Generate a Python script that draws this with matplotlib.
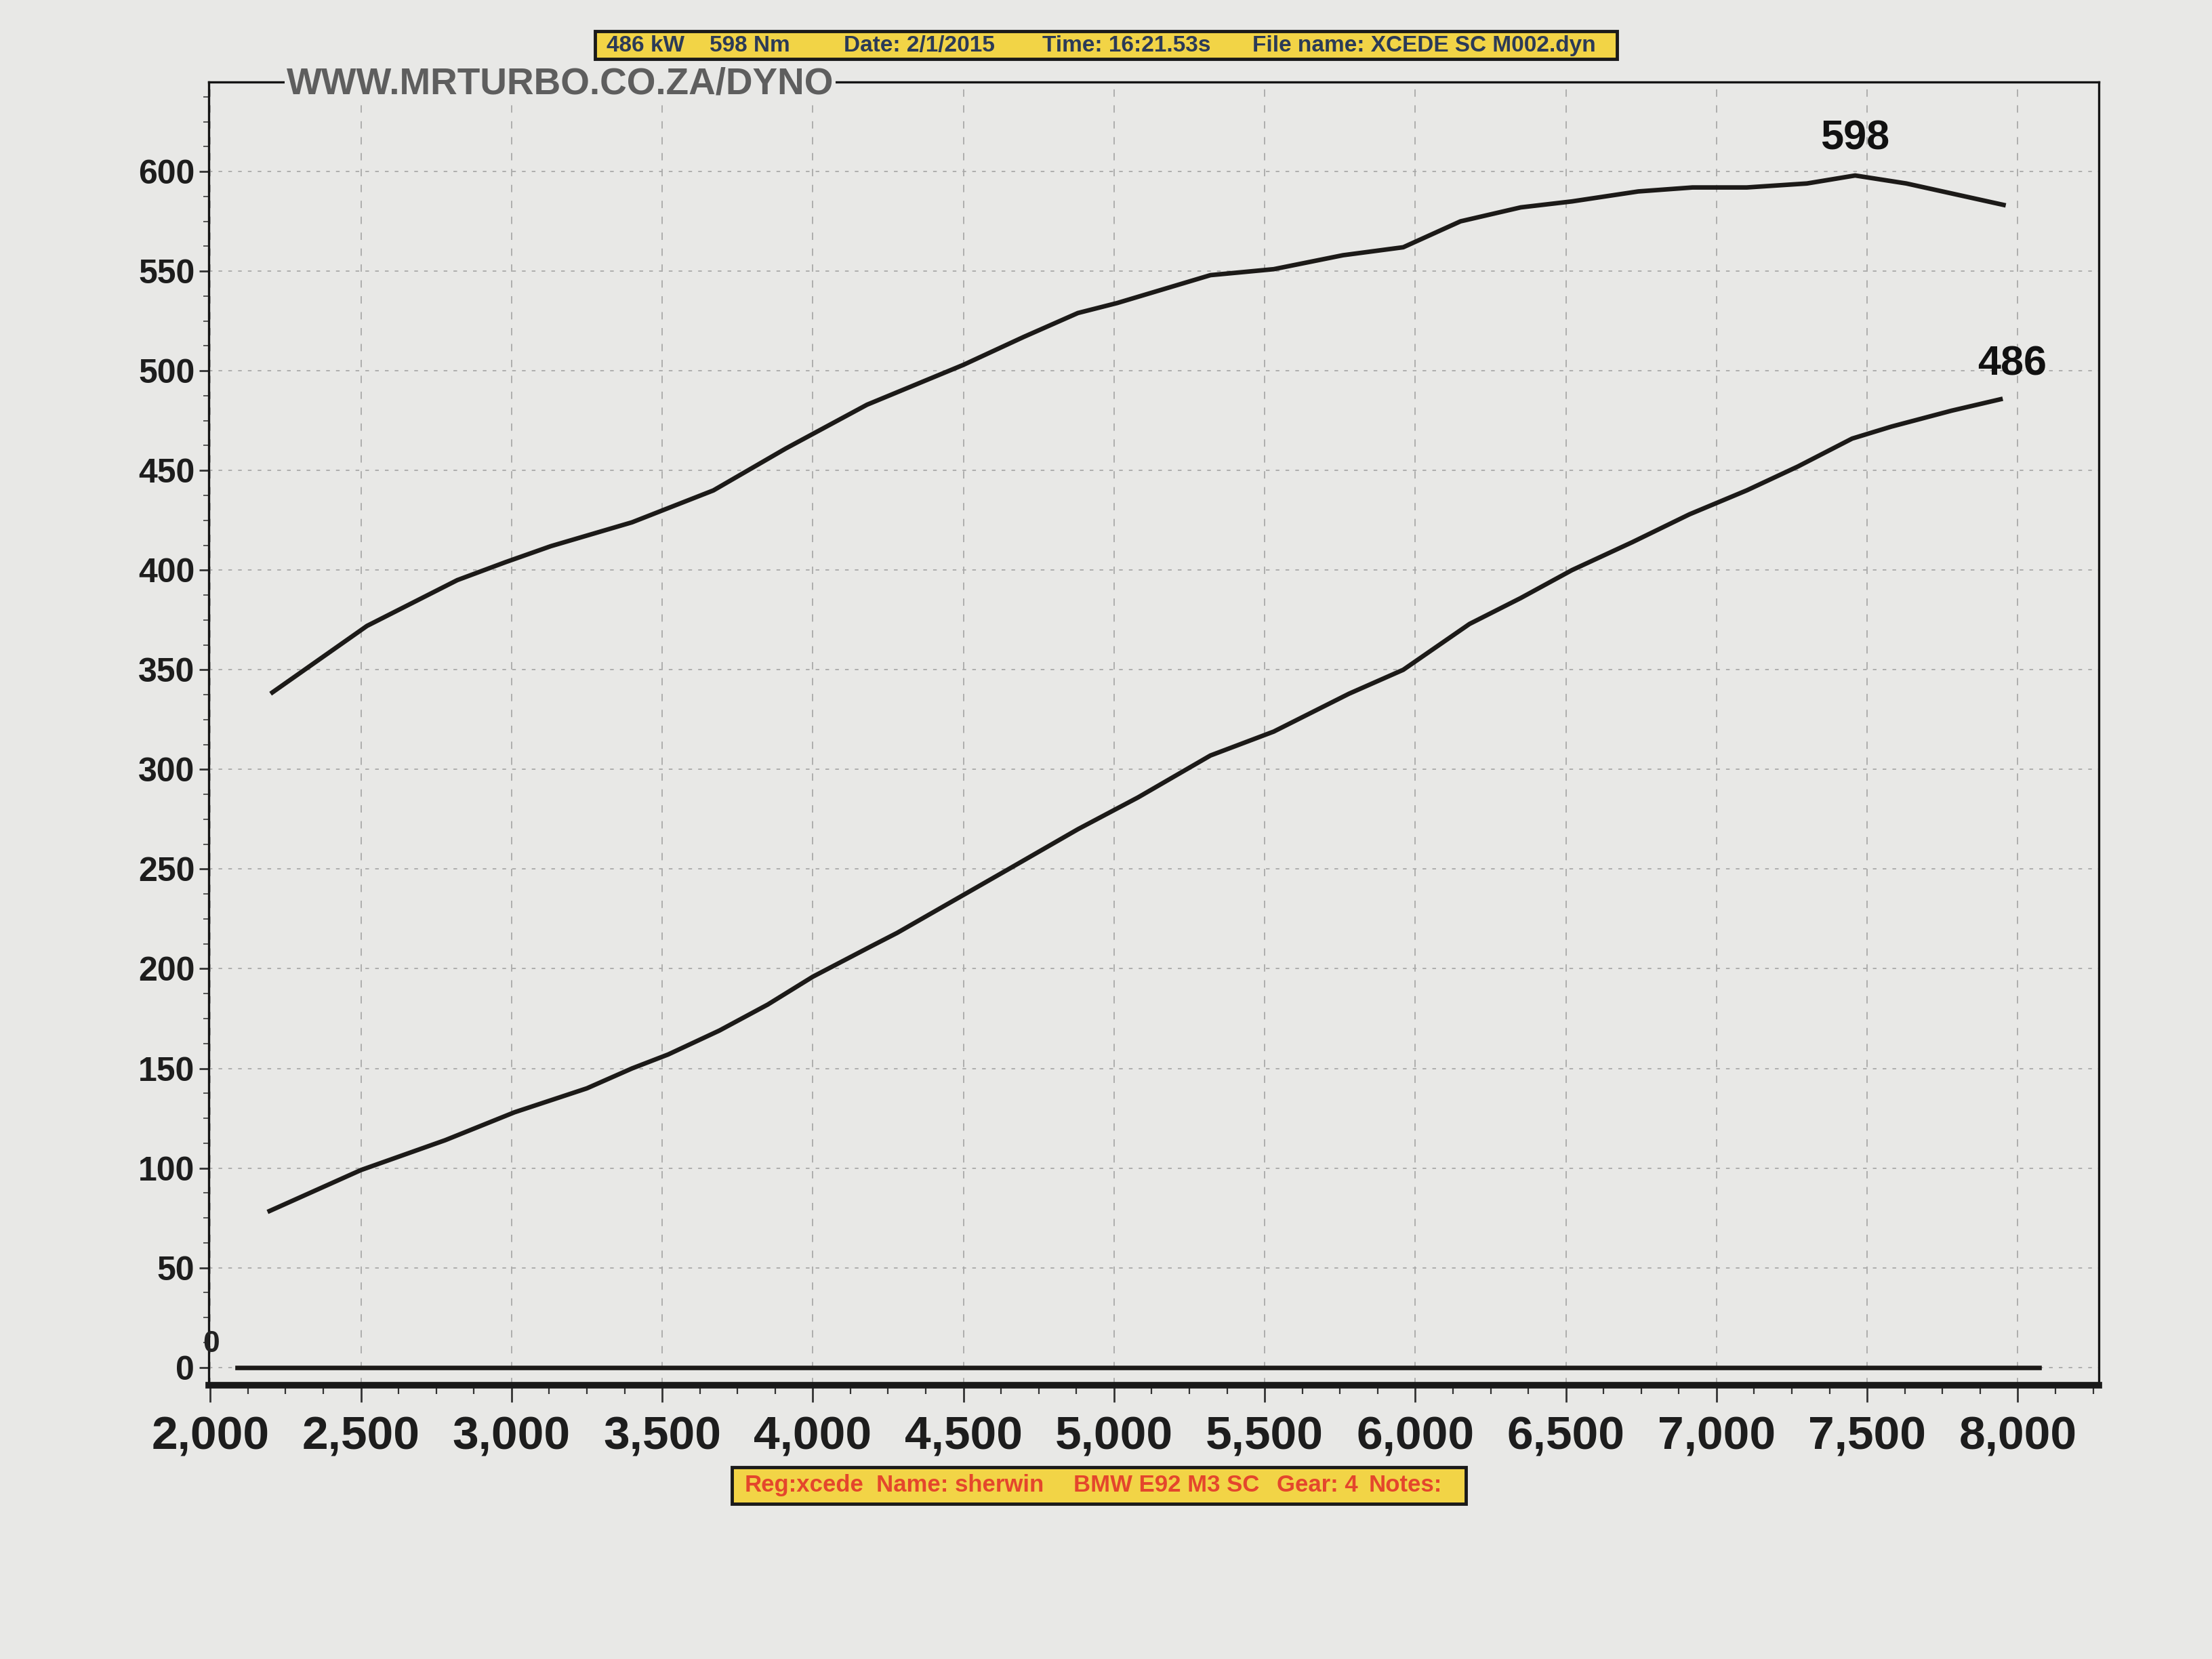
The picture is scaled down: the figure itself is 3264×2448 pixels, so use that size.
import matplotlib
matplotlib.use("Agg")
import matplotlib.pyplot as plt
from matplotlib.ticker import MultipleLocator, FuncFormatter
from matplotlib.patches import Rectangle

# ---------------- data (read from the dyno sheet) ----------------
torque_rpm = [2200, 2520, 2820, 2980, 3130, 3400, 3670, 3910, 4180, 4500, 4700,
              4880, 5010, 5320, 5530, 5760, 5960, 6150, 6350, 6520, 6740, 6920,
              7100, 7300, 7460, 7630, 7960]
torque_nm = [338, 372, 395, 404, 412, 424, 440, 461, 483, 503, 517,
             529, 534, 548, 551, 558, 562, 575, 582, 585, 590, 592,
             592, 594, 598, 594, 583]

power_rpm = [2190, 2500, 2780, 3010, 3250, 3400, 3520, 3690, 3850, 4000, 4190,
             4280, 4650, 4880, 5080, 5320, 5530, 5780, 5960, 6180, 6350, 6520,
             6720, 6910, 7100, 7270, 7450, 7580, 7780, 7950]
power_kw = [78, 99, 114, 128, 140, 150, 157, 169, 182, 196, 211,
            218, 250, 270, 286, 307, 319, 338, 350, 373, 386, 400,
            414, 428, 440, 452, 466, 472, 480, 486]

zero_rpm = [2090, 8070]
zero_val = [0, 0]

y_ticks = [0, 50, 100, 150, 200, 250, 300, 350, 400, 450, 500, 550, 600]
x_ticks = [2000, 2500, 3000, 3500, 4000, 4500, 5000, 5500, 6000, 6500, 7000, 7500, 8000]

header_items = ["486 kW", "598 Nm", "Date: 2/1/2015", "Time: 16:21.53s",
                "File name: XCEDE SC M002.dyn"]
footer_items = ["Reg:xcede", "Name: sherwin", "BMW E92 M3 SC", "Gear: 4", "Notes:"]
site_text = "WWW.MRTURBO.CO.ZA/DYNO"

# ---------------- style ----------------
BG = "#e8e8e6"
FONT = ["Liberation Sans", "DejaVu Sans"]
plt.rcParams["font.family"] = FONT

W, H = 1568.0, 1176.0  # layout measured on the reduced reference


def fx(px):
    return px / W


def fy(py):
    return 1 - py / H


fig = plt.figure(figsize=(32.64, 24.48), dpi=100, facecolor=BG)
ax = fig.add_axes([fx(148), fy(982), fx(1488) - fx(148), fy(58) - fy(982)])
ax.set_facecolor(BG)

ax.set_xlim(1995, 8270)
ax.set_ylim(-9, 645)

# grid
for xv in x_ticks:
    ax.axvline(xv, color="#a9a9a9", lw=1.3, ls=(0, (6, 7)), zorder=1)
for yv in y_ticks:
    ax.axhline(yv, color="#a9a9a9", lw=1.3, ls=(0, (3, 5)), zorder=1)

# curves
LINE = "#1c1a18"
ax.plot(torque_rpm, torque_nm, color=LINE, lw=4.8, zorder=3,
        solid_joinstyle="round", solid_capstyle="butt")
ax.plot(power_rpm, power_kw, color=LINE, lw=4.8, zorder=3,
        solid_joinstyle="round", solid_capstyle="butt")
ax.plot(zero_rpm, zero_val, color=LINE, lw=4.8, zorder=3)

# peak labels
ti = torque_nm.index(max(torque_nm))
ax.annotate(f"{max(torque_nm)}", xy=(torque_rpm[ti], torque_nm[ti]),
            xytext=(0, 18), textcoords="offset points", ha="center", va="bottom",
            fontsize=44, fontweight="bold", color="#111111")
pi = power_kw.index(max(power_kw))
ax.annotate(f"{max(power_kw)}", xy=(power_rpm[pi], power_kw[pi]),
            xytext=(10, 16), textcoords="offset points", ha="center", va="bottom",
            fontsize=44, fontweight="bold", color="#111111")
ax.annotate(f"{zero_val[0]}", xy=(zero_rpm[0], zero_val[0]),
            xytext=(-28, 10), textcoords="offset points", ha="center", va="bottom",
            fontsize=32, fontweight="bold", color="#222222")

# spines
for s in ["left", "right", "top"]:
    ax.spines[s].set_linewidth(2.4)
    ax.spines[s].set_color("#151515")
ax.spines["bottom"].set_linewidth(7)
ax.spines["bottom"].set_color("#1a1a1a")

# ticks
ax.set_xticks(x_ticks)
ax.xaxis.set_minor_locator(MultipleLocator(125))
ax.set_yticks(y_ticks)
ax.yaxis.set_minor_locator(MultipleLocator(12.5))
ax.xaxis.set_major_formatter(FuncFormatter(lambda v, p: f"{int(v):,}"))
ax.tick_params(axis="x", which="major", length=18, width=2, color="#333333",
               pad=14, labelsize=50)
ax.tick_params(axis="x", which="minor", length=9, width=1.6, color="#333333")
ax.tick_params(axis="y", which="major", length=10, width=2, color="#333333",
               pad=5, labelsize=36)
ax.tick_params(axis="y", which="minor", length=6, width=1.4, color="#555555")
for lab in ax.get_xticklabels() + ax.get_yticklabels():
    lab.set_fontweight("bold")
    lab.set_color("#1d1d1d")

# site text interrupting the top border
fig.text(fx(203), fy(60), site_text, ha="left", va="center", fontsize=39.5,
         fontweight="bold", color="#5e5e5e", zorder=10,
         bbox=dict(facecolor=BG, edgecolor="none", pad=2))

# header box
hb = Rectangle((fx(422), fy(42)), fx(1146) - fx(422), fy(22) - fy(42),
               transform=fig.transFigure, facecolor="#f2d446", edgecolor="#1a1a1a",
               lw=3.5, zorder=5)
fig.patches.append(hb)
header_x = [430, 503, 598, 739, 888]
for xpos, t in zip(header_x, header_items):
    fig.text(fx(xpos), fy(32.5), t, ha="left", va="center", fontsize=24,
             fontweight="bold", color="#2b3a57", zorder=6)

# footer box
fb = Rectangle((fx(519), fy(1066)), fx(1039) - fx(519), fy(1040) - fy(1066),
               transform=fig.transFigure, facecolor="#f2d446", edgecolor="#1a1a1a",
               lw=3.5, zorder=5)
fig.patches.append(fb)
footer_x = [528, 621, 761, 905, 970]
for xpos, t in zip(footer_x, footer_items):
    fig.text(fx(xpos), fy(1053), t, ha="left", va="center", fontsize=25,
             fontweight="bold", color="#e4462c", zorder=6)

fig.savefig("out.png", dpi=100, facecolor=BG)
